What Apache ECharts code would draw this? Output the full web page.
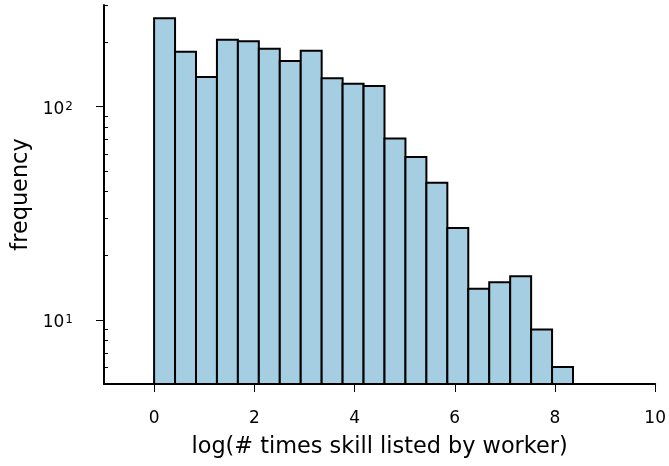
<!DOCTYPE html>
<html>
<head>
<meta charset="utf-8">
<script src="https://cdn.jsdelivr.net/npm/echarts@6/dist/echarts.min.js"></script>
<style>
  html, body { margin: 0; padding: 0; background: #fff; }
  #chart { width: 669px; height: 466px; }
</style>
</head>
<body>
<div id="chart"></div>
<script>
// Histogram of log(# times a skill is listed by a worker), log-scaled counts
const binLow = 0;
const binHigh = 8.36;
const counts = [260, 181, 138, 206, 203, 187, 164, 183, 136, 128,
                125, 71, 58, 44, 27, 14, 15, 16, 9, 6];

const xTicks = [0, 2, 4, 6, 8, 10];
const yMajorTicks = [10, 100];
const yMinorTicks = [6, 7, 8, 9, 20, 30, 40, 50, 60, 70, 80, 90, 200, 300];
const yMin = 5;
const yMax = 300;

const FONT = 'DejaVu Sans';
const binWidth = (binHigh - binLow) / counts.length;
const bins = counts.map((c, i) => [binLow + i * binWidth, binLow + (i + 1) * binWidth, c]);

const chart = echarts.init(document.getElementById('chart'), null, { renderer: 'canvas' });

chart.setOption({
  animation: false,
  backgroundColor: '#ffffff',
  grid: { left: 104, right: 12, top: 5, bottom: 82, containLabel: false },
  xAxis: {
    type: 'value',
    min: -1,
    max: 10,
    name: 'log(# times skill listed by worker)',
    nameLocation: 'middle',
    nameGap: 52,
    nameTextStyle: { fontFamily: FONT, fontSize: 22.4, color: '#000' },
    axisLine: { show: true, onZero: false, lineStyle: { color: '#000', width: 2 } },
    axisTick: { show: true, length: 8, customValues: xTicks, lineStyle: { color: '#000', width: 1 } },
    axisLabel: { customValues: xTicks, margin: 26, fontFamily: FONT, fontSize: 17, color: '#000' },
    splitLine: { show: false }
  },
  yAxis: [
    {
      type: 'log',
      logBase: 10,
      min: yMin,
      max: yMax,
      position: 'left',
      name: 'frequency',
      nameLocation: 'middle',
      nameGap: 72,
      nameTextStyle: { fontFamily: FONT, fontSize: 22.4, color: '#000' },
      axisLine: { show: true, onZero: false, lineStyle: { color: '#000', width: 2 } },
      axisTick: { show: true, length: 8, customValues: yMajorTicks, lineStyle: { color: '#000', width: 1 } },
      axisLabel: {
        customValues: yMajorTicks,
        margin: 31,
        padding: [6, 0, 0, 0],
        fontFamily: FONT,
        fontSize: 17,
        color: '#000',
        formatter: v => '10{sup|' + Math.round(Math.log10(v)) + '}',
        rich: {
          sup: { fontFamily: FONT, fontSize: 12, color: '#000', verticalAlign: 'top', padding: [0, 0, 4, 1] }
        }
      },
      splitLine: { show: false }
    },
    {
      type: 'log',
      logBase: 10,
      min: yMin,
      max: yMax,
      position: 'left',
      offset: 0,
      axisLine: { show: false, onZero: false },
      axisTick: { show: true, inside: true, length: 4, customValues: yMinorTicks, lineStyle: { color: '#000', width: 1 } },
      axisLabel: { show: false },
      splitLine: { show: false }
    }
  ],
  series: [
    {
      type: 'custom',
      xAxisIndex: 0,
      yAxisIndex: 0,
      data: bins,
      encode: { x: [0, 1], y: 2 },
      renderItem: function (params, api) {
        const top = api.coord([api.value(0), api.value(2)]);
        const base = api.coord([api.value(1), yMin]);
        return {
          type: 'rect',
          shape: { x: top[0], y: top[1], width: base[0] - top[0], height: base[1] - top[1] },
          style: { fill: '#a6cee3', stroke: '#000', lineWidth: 2 }
        };
      }
    }
  ]
});
</script>
</body>
</html>
